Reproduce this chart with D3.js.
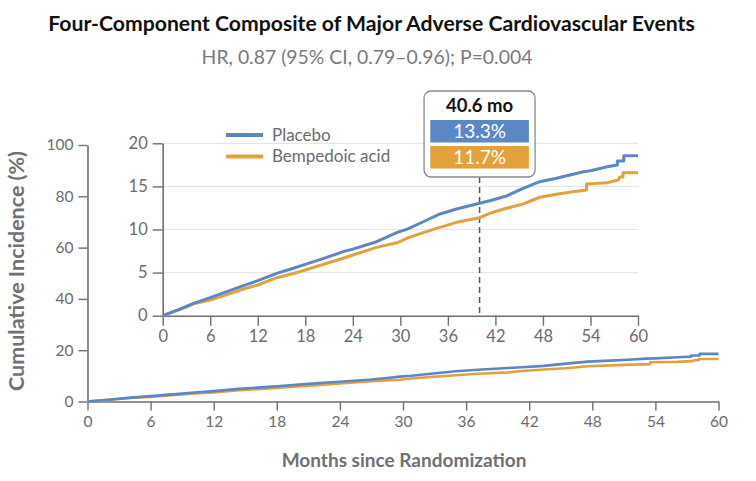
<!DOCTYPE html>
<html>
<head>
<meta charset="utf-8">
<script src="https://cdn.jsdelivr.net/npm/d3@7"></script>
<style>
  html, body { margin: 0; padding: 0; background: #fff; }
  svg { display: block; font-family: Lato, "Open Sans", sans-serif; }
</style>
</head>
<body>
<svg id="chart" width="756" height="481"></svg>
<script>
// ---------------- data ----------------
const titleText = "Four-Component Composite of Major Adverse Cardiovascular Events";
const subtitleText = "HR, 0.87 (95% CI, 0.79\u20130.96); P=0.004";
const xLabel = "Months since Randomization";
const yLabel = "Cumulative Incidence (%)";
const seriesNames = ["Placebo", "Bempedoic acid"];
const seriesColors = ["#5b87c6", "#e3a13c"];
const xTicks = [0, 6, 12, 18, 24, 30, 36, 42, 48, 54, 60];
const yTicksMain = [0, 20, 40, 60, 80, 100];
const yTicksInset = [0, 5, 10, 15, 20];
// [month, cumulative incidence %]
const placebo = [[0,0],[2,0.7],[3.9,1.42],[6,2.1],[8.1,2.79],[10.2,3.48],[12,4.06],[14.4,4.91],[16.5,5.5],[18,5.96],[20.7,6.77],[22.8,7.43],[24,7.72],[27,8.58],[28.7,9.28],[29.7,9.7],[30.8,10.02],[32.9,10.9],[35,11.8],[37.1,12.38],[40,13.04],[41.3,13.34],[43.4,13.89],[45.5,14.78],[47.6,15.55],[49.7,15.94],[51.8,16.4],[53.1,16.7],[54,16.82],[56.1,17.28],[57.4,17.48],[57.4,17.95],[58.2,17.95],[58.2,18.56],[60,18.56]];
const bempedoic = [[0,0],[2,0.65],[3.9,1.38],[6,1.82],[8.1,2.44],[10.2,3.1],[12,3.56],[14.4,4.41],[16.5,4.9],[18,5.3],[20.7,6.08],[22.8,6.66],[24,7.04],[27,7.93],[29.7,8.5],[30.8,8.98],[32.9,9.63],[35,10.25],[37.1,10.83],[40,11.37],[41.3,11.88],[43.4,12.46],[45.5,12.96],[47.6,13.74],[49.7,14.08],[51.8,14.39],[53.5,14.58],[53.5,15.28],[56.1,15.43],[57.5,15.74],[57.7,16.1],[58.1,16.1],[58.1,16.59],[60,16.59]];
const markerMonth = 40;            // where the dashed marker sits in the picture
const markerLabel = "40.6 mo";
const markerValues = ["13.3%", "11.7%"];

// ---------------- drawing ----------------
const svg = d3.select("#chart");
const axisColor = "#6f6f74";
const textColor = "#6b6b70";

function fitText(sel, width, base) {
  sel.attr("font-size", base);
  const w = sel.node().getComputedTextLength();
  sel.attr("font-size", base * width / w);
}

// Title / subtitle
const t = svg.append("text").attr("x", 371.5).attr("y", 31).attr("text-anchor", "middle")
  .attr("font-weight", 700).attr("fill", "#111").text(titleText);
fitText(t, 647, 20);
const st = svg.append("text").attr("x", 367).attr("y", 64).attr("text-anchor", "middle")
  .attr("fill", "#7a7a7e").text(subtitleText);
fitText(st, 331, 17);

// ---------- main chart ----------
const xMain = d3.scaleLinear().domain([0, 60]).range([87.5, 718.5]);
const yMain = d3.scaleLinear().domain([0, 100]).range([401.5, 145]);

const gx = svg.append("g").attr("transform", `translate(0,${yMain(0)})`)
  .call(d3.axisBottom(xMain).tickValues(xTicks).tickSize(9).tickPadding(5).tickSizeOuter(0));
const gy = svg.append("g").attr("transform", `translate(${xMain(0)},0)`)
  .call(d3.axisLeft(yMain).tickValues(yTicksMain).tickSize(9).tickPadding(5).tickSizeOuter(0));
[gx, gy].forEach(g => {
  g.select(".domain").attr("stroke", axisColor).attr("stroke-width", 1.6);
  g.selectAll(".tick line").attr("stroke", axisColor).attr("stroke-width", 1.4);
  g.selectAll(".tick text").attr("fill", textColor).attr("font-size", 15.5).attr("font-family", "Lato, sans-serif");
});

const lineMain = d3.line().x(d => xMain(d[0])).y(d => yMain(d[1]));
[bempedoic, placebo].forEach((s, i) => {
  svg.append("path").datum(s).attr("d", lineMain).attr("fill", "none")
    .attr("stroke", seriesColors[1 - i]).attr("stroke-width", 2.6).attr("stroke-linejoin", "round");
});

// axis labels
const xl = svg.append("text").attr("x", 404).attr("y", 467).attr("text-anchor", "middle")
  .attr("font-weight", 700).attr("fill", "#707075").text(xLabel);
fitText(xl, 245, 18);
const yl = svg.append("text").attr("transform", "translate(24,271) rotate(-90)").attr("text-anchor", "middle")
  .attr("font-weight", 700).attr("fill", "#707075").text(yLabel);
fitText(yl, 240, 18);

// ---------- inset ----------
const xIn = d3.scaleLinear().domain([0, 60]).range([162.7, 638]);
const yIn = d3.scaleLinear().domain([0, 20]).range([315.7, 143.3]);

svg.append("g").selectAll("line").data(yTicksInset.filter(v => v > 0)).join("line")
  .attr("x1", xIn(0)).attr("x2", xIn(60)).attr("y1", d => yIn(d)).attr("y2", d => yIn(d))
  .attr("stroke", "#e6e6e6").attr("stroke-width", 1.2);

const gix = svg.append("g").attr("transform", `translate(0,${yIn(0)})`)
  .call(d3.axisBottom(xIn).tickValues(xTicks).tickSize(10).tickPadding(5).tickSizeOuter(0));
const giy = svg.append("g").attr("transform", `translate(${xIn(0)},0)`)
  .call(d3.axisLeft(yIn).tickValues(yTicksInset).tickSize(10).tickPadding(5).tickSizeOuter(0));
[gix, giy].forEach(g => {
  g.select(".domain").attr("stroke", axisColor).attr("stroke-width", 1.6);
  g.selectAll(".tick line").attr("stroke", axisColor).attr("stroke-width", 1.4);
  g.selectAll(".tick text").attr("fill", textColor).attr("font-size", 16.5).attr("font-family", "Lato, sans-serif");
});

// dashed marker
svg.append("line").attr("x1", xIn(markerMonth)).attr("x2", xIn(markerMonth))
  .attr("y1", 177).attr("y2", yIn(0))
  .attr("stroke", "#555").attr("stroke-width", 1.5).attr("stroke-dasharray", "6,4");

const lineIn = d3.line().x(d => xIn(d[0])).y(d => yIn(d[1]));
[bempedoic, placebo].forEach((s, i) => {
  svg.append("path").datum(s).attr("d", lineIn).attr("fill", "none")
    .attr("stroke", seriesColors[1 - i]).attr("stroke-width", 3).attr("stroke-linejoin", "round");
});

// legend
seriesNames.forEach((name, i) => {
  const y = 135 + i * 21.5;
  svg.append("line").attr("x1", 226).attr("x2", 263).attr("y1", y).attr("y2", y)
    .attr("stroke", seriesColors[i]).attr("stroke-width", 4);
  svg.append("text").attr("x", 272).attr("y", y + 5.5).attr("fill", textColor)
    .attr("font-size", 17).text(name);
});

// tooltip box
const cx = xIn(markerMonth);
const tip = svg.append("g");
tip.append("rect").attr("x", cx - 55.5).attr("y", 91).attr("width", 111).attr("height", 86)
  .attr("rx", 7).attr("fill", "#fff").attr("stroke", "#8a8a8a").attr("stroke-width", 1.3);
tip.append("text").attr("x", cx).attr("y", 111.5).attr("text-anchor", "middle")
  .attr("font-weight", 700).attr("font-size", 18.5).attr("fill", "#111").text(markerLabel);
markerValues.forEach((v, i) => {
  const y0 = 120 + i * 26;
  tip.append("rect").attr("x", cx - 49.3).attr("y", y0).attr("width", 98.6).attr("height", 22.5)
    .attr("fill", seriesColors[i]);
  tip.append("text").attr("x", cx).attr("y", y0 + 18).attr("text-anchor", "middle")
    .attr("font-size", 19).attr("fill", "#fff").text(v);
});
</script>
</body>
</html>
